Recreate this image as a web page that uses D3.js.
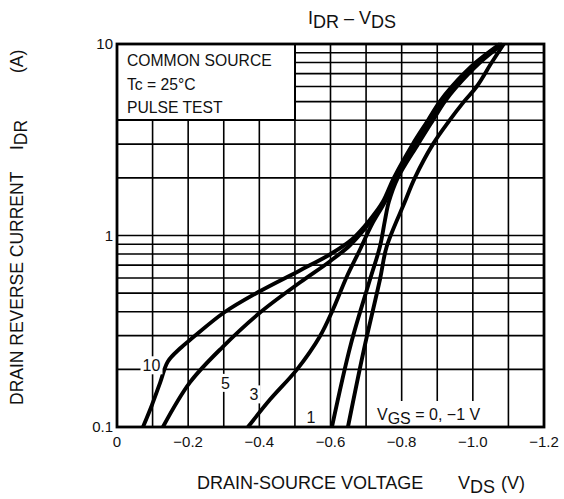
<!DOCTYPE html>
<html>
<head>
<meta charset="utf-8">
<script src="https://cdn.jsdelivr.net/npm/d3@7/dist/d3.min.js"></script>
<style>
  body { margin: 0; background: #fff; }
  svg { display: block; }
  text { font-family: "Liberation Sans", Arial, sans-serif; fill: #111; }
</style>
</head>
<body>
<svg id="canvas" width="564" height="499"></svg>
<script>
// tick values and labels
var xTickValues = [0, -0.2, -0.4, -0.6, -0.8, -1.0, -1.2];
var xTickLabels = ['0', '\u22120.2', '\u22120.4', '\u22120.6', '\u22120.8', '\u22121.0', '\u22121.2'];
var yTickValues = [0.1, 1, 10];
var yTickLabels = ['0.1', '1', '10'];

// curves: VDS (V), IDR (A)
var vgs10V = [-0.073, -0.098, -0.121, -0.143, -0.177, -0.213, -0.30, -0.40, -0.514, -0.598, -0.660, -0.711, -0.747, -0.778, -0.831, -0.874, -0.907, -0.941, -1.008, -1.076];
var vgs10I = [0.1, 0.13, 0.17, 0.22, 0.257, 0.293, 0.395, 0.51, 0.657, 0.796, 0.953, 1.21, 1.5, 2, 3, 4, 5, 6, 8, 10];
var vgs5V = [-0.129, -0.205, -0.298, -0.402, -0.514, -0.598, -0.654, -0.699, -0.750, -0.781, -0.834, -0.876, -0.910, -0.944, -1.011, -1.079];
var vgs5I = [0.1, 0.171, 0.263, 0.396, 0.568, 0.732, 0.887, 1.10, 1.5, 2, 3, 4, 5, 6, 8, 10];
var vgs3V = [-0.368, -0.430, -0.506, -0.570, -0.607, -0.646, -0.683, -0.716, -0.753, -0.784, -0.837, -0.879, -0.913, -0.947, -1.014, -1.081];
var vgs3I = [0.1, 0.139, 0.200, 0.297, 0.411, 0.611, 0.845, 1.14, 1.5, 2, 3, 4, 5, 6, 8, 10];
var vgs1V = [-0.604, -0.657, -0.711, -0.739, -0.753, -0.764, -0.789, -0.846, -0.888, -0.921, -0.955, -1.020, -1.084];
var vgs1I = [0.1, 0.270, 0.589, 0.876, 1.2, 1.5, 2, 3, 4, 5, 6, 8, 10];
var vgs0V = [-0.649, -0.694, -0.739, -0.758, -0.809, -0.837, -0.888, -0.935, -0.975, -1.011, -1.053, -1.087];
var vgs0I = [0.1, 0.254, 0.589, 0.876, 1.5, 2, 3, 4, 5, 6, 8, 10];

var svg, x, y;

init();

function init() {
  svg = d3.select('svg#canvas');

  x = d3.scaleLinear().domain([0, -1.2]).range([117, 544]);
  y = d3.scaleLog().domain([0.1, 10]).range([427, 44]);

  // grid
  var vLines = d3.range(0, 13).map(function(i) { return -i * 0.1; });
  var hLines = [];
  [0.1, 1].forEach(function(dec) {
    for (var k = 2; k <= 9; k++) hLines.push(dec * k);
  });
  hLines.push(1);

  var grid = svg.append('g').attr('class', 'grid')
    .attr('stroke', '#000').attr('stroke-width', 1.6);

  grid.selectAll('.v').data(vLines).enter().append('line')
    .attr('x1', function(d) { return x(d); }).attr('x2', function(d) { return x(d); })
    .attr('y1', y(0.1)).attr('y2', y(10));

  grid.selectAll('.h').data(hLines).enter().append('line')
    .attr('x1', x(0)).attr('x2', x(-1.2))
    .attr('y1', function(d) { return y(d); }).attr('y2', function(d) { return y(d); });

  // conditions box
  svg.append('rect')
    .attr('x', x(0)).attr('y', y(10))
    .attr('width', 178).attr('height', 76)
    .attr('fill', '#fff').attr('stroke', '#000').attr('stroke-width', 2);

  var boxText = ['COMMON SOURCE', 'Tc = 25\u00b0C', 'PULSE TEST'];
  svg.selectAll('.boxtxt').data(boxText).enter().append('text')
    .attr('x', 127)
    .attr('y', function(d, i) { return 66 + i * 23.5; })
    .attr('font-size', 15.7)
    .text(function(d) { return d; });

  // curves
  var line = d3.line()
    .x(function(d) { return x(d[0]); })
    .y(function(d) { return y(d[1]); })
    .curve(d3.curveCatmullRom.alpha(0.5));

  var series = [
    d3.zip(vgs10V, vgs10I),
    d3.zip(vgs5V, vgs5I),
    d3.zip(vgs3V, vgs3I),
    d3.zip(vgs1V, vgs1I),
    d3.zip(vgs0V, vgs0I)
  ];

  svg.append('g').attr('class', 'curves').selectAll('path')
    .data(series).enter().append('path')
    .attr('d', line)
    .attr('fill', 'none')
    .attr('stroke', '#000')
    .attr('stroke-width', 3.9)
    .attr('stroke-linejoin', 'round');

  // curve labels with white backing
  var labels = [
    { t: '10', v: -0.097, i: 0.21 },
    { t: '5', v: -0.305, i: 0.17 },
    { t: '3', v: -0.385, i: 0.148 },
    { t: '1', v: -0.545, i: 0.113 }
  ];
  var lab = svg.append('g').attr('class', 'labels');
  labels.forEach(function(d) {
    var cx = x(d.v), cy = y(d.i);
    var w = d.t.length * 9 + 4;
    lab.append('rect').attr('x', cx - w / 2).attr('y', cy - 9)
      .attr('width', w).attr('height', 18).attr('fill', '#fff');
    lab.append('text').attr('x', cx).attr('y', cy + 6)
      .attr('text-anchor', 'middle').attr('font-size', 16).text(d.t);
  });

  lab.append('rect').attr('x', 372).attr('y', 401).attr('width', 114).attr('height', 25).attr('fill', '#fff');
  var vg = lab.append('text').attr('x', 377).attr('y', 420).attr('font-size', 16);
  vg.append('tspan').text('V');
  vg.append('tspan').attr('dy', 4).text('GS');
  vg.append('tspan').attr('dy', -4).text(' = 0, \u22121 V');

  // frame
  svg.append('rect')
    .attr('x', x(0)).attr('y', y(10))
    .attr('width', x(-1.2) - x(0)).attr('height', y(0.1) - y(10))
    .attr('fill', 'none').attr('stroke', '#000').attr('stroke-width', 2.8);

  // tick labels
  svg.selectAll('.xt').data(xTickValues).enter().append('text')
    .attr('x', function(d) { return x(d); })
    .attr('y', 447)
    .attr('text-anchor', 'middle')
    .attr('font-size', 15)
    .text(function(d, i) { return xTickLabels[i]; });

  svg.selectAll('.yt').data(yTickValues).enter().append('text')
    .attr('x', 113)
    .attr('y', function(d) { return y(d) + 5; })
    .attr('text-anchor', 'end')
    .attr('font-size', 15)
    .text(function(d, i) { return yTickLabels[i]; });

  // titles
  var title = svg.append('text').attr('x', 308).attr('y', 24).attr('font-size', 18);
  title.append('tspan').text('I');
  title.append('tspan').attr('dy', 4).text('DR');
  title.append('tspan').attr('dy', -4).text(' \u2013 V');
  title.append('tspan').attr('dy', 4).text('DS');

  var xt = svg.append('text').attr('x', 197).attr('y', 489).attr('font-size', 18);
  xt.append('tspan').text('DRAIN-SOURCE VOLTAGE');
  xt.append('tspan').attr('x', 458).text('V');
  xt.append('tspan').attr('dy', 4).text('DS');
  xt.append('tspan').attr('dy', -4).attr('x', 501).text('(V)');

  var yt = svg.append('g').attr('transform', 'translate(23,0) rotate(-90)');
  yt.append('text').attr('x', -405).attr('y', 0).attr('font-size', 17.5).text('DRAIN REVERSE CURRENT');
  var yi = yt.append('text').attr('x', -150).attr('y', 0).attr('font-size', 17.5);
  yi.append('tspan').text('I');
  yi.append('tspan').attr('dy', 4).text('DR');
  yt.append('text').attr('x', -73).attr('y', 0).attr('font-size', 17.5).text('(A)');
}
</script>
</body>
</html>
